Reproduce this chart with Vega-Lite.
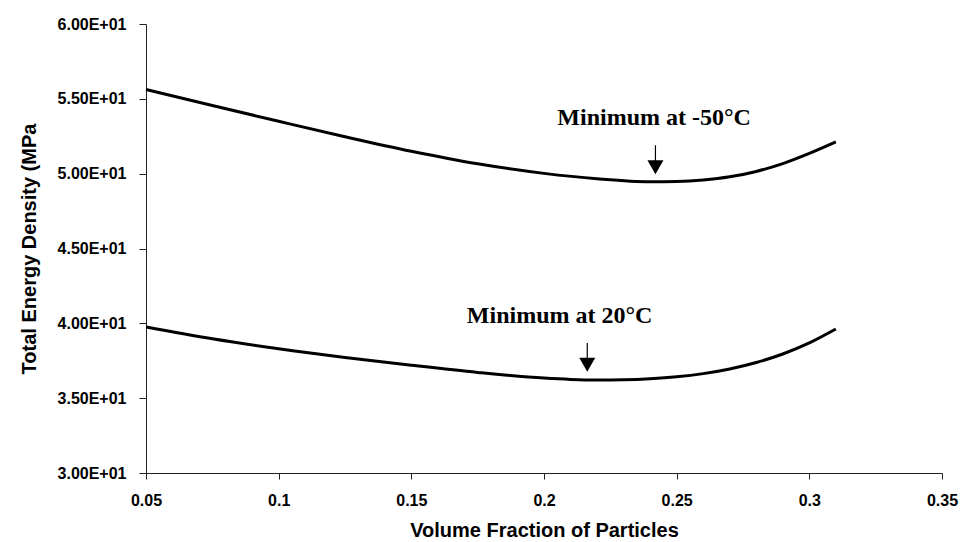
{
  "$schema": "https://vega.github.io/schema/vega-lite/v6.json",
  "width": 796,
  "height": 449,
  "autosize": {"type": "none"},
  "padding": {"left": 146, "top": 24, "right": 19, "bottom": 69},
  "background": "white",
  "config": {
    "view": {"stroke": null},
    "axis": {
      "labelFont": "Liberation Sans",
      "labelFontWeight": "bold",
      "labelFontSize": 16,
      "labelColor": "#000",
      "titleFont": "Liberation Sans",
      "titleFontWeight": "bold",
      "titleFontSize": 20,
      "titleColor": "#000",
      "domainColor": "#222",
      "tickColor": "#222",
      "grid": false
    }
  },
  "datasets": {
    "curves": [
      {"series": "-50C", "vf": 0.05, "energy": 55.62},
      {"series": "-50C", "vf": 0.075, "energy": 54.55},
      {"series": "-50C", "vf": 0.1, "energy": 53.5},
      {"series": "-50C", "vf": 0.125, "energy": 52.47},
      {"series": "-50C", "vf": 0.15, "energy": 51.5},
      {"series": "-50C", "vf": 0.175, "energy": 50.66},
      {"series": "-50C", "vf": 0.2, "energy": 50.02},
      {"series": "-50C", "vf": 0.22, "energy": 49.66},
      {"series": "-50C", "vf": 0.24, "energy": 49.46},
      {"series": "-50C", "vf": 0.25, "energy": 49.48},
      {"series": "-50C", "vf": 0.26, "energy": 49.58},
      {"series": "-50C", "vf": 0.27, "energy": 49.79},
      {"series": "-50C", "vf": 0.28, "energy": 50.15},
      {"series": "-50C", "vf": 0.29, "energy": 50.67},
      {"series": "-50C", "vf": 0.3, "energy": 51.35},
      {"series": "-50C", "vf": 0.31, "energy": 52.12},
      {"series": "20C", "vf": 0.05, "energy": 39.76},
      {"series": "20C", "vf": 0.075, "energy": 38.97},
      {"series": "20C", "vf": 0.1, "energy": 38.3},
      {"series": "20C", "vf": 0.125, "energy": 37.72},
      {"series": "20C", "vf": 0.15, "energy": 37.2},
      {"series": "20C", "vf": 0.175, "energy": 36.72},
      {"series": "20C", "vf": 0.2, "energy": 36.34},
      {"series": "20C", "vf": 0.21, "energy": 36.25},
      {"series": "20C", "vf": 0.22, "energy": 36.21},
      {"series": "20C", "vf": 0.23, "energy": 36.23},
      {"series": "20C", "vf": 0.24, "energy": 36.3},
      {"series": "20C", "vf": 0.25, "energy": 36.43},
      {"series": "20C", "vf": 0.26, "energy": 36.64},
      {"series": "20C", "vf": 0.27, "energy": 36.95},
      {"series": "20C", "vf": 0.28, "energy": 37.38},
      {"series": "20C", "vf": 0.29, "energy": 37.95},
      {"series": "20C", "vf": 0.3, "energy": 38.69},
      {"series": "20C", "vf": 0.31, "energy": 39.62}
    ],
    "arrows": [
      {"vf": 0.242, "top": 51.9, "bottom": 50.76, "head": 50.43},
      {"vf": 0.2163, "top": 38.69, "bottom": 37.53, "head": 37.23}
    ],
    "notes": [
      {"label": "Minimum at -50°C", "vf": 0.2415, "energy": 53.23},
      {"label": "Minimum at 20°C", "vf": 0.2059, "energy": 40.04}
    ]
  },
  "layer": [
    {
      "data": {"name": "curves"},
      "mark": {"type": "line", "color": "#000", "strokeWidth": 3, "interpolate": "monotone"},
      "encoding": {
        "x": {
          "field": "vf", "type": "quantitative",
          "scale": {"domain": [0.05, 0.35], "nice": false, "zero": false},
          "axis": {
            "title": "Volume Fraction of Particles",
            "values": [0.05, 0.1, 0.15, 0.2, 0.25, 0.3, 0.35],
            "format": "~g",
            "tickSize": 6,
            "labelPadding": 13,
            "titlePadding": 12,
            "labelFlush": false
          }
        },
        "y": {
          "field": "energy", "type": "quantitative",
          "scale": {"domain": [30, 60], "nice": false, "zero": false},
          "axis": {
            "title": "Total Energy Density (MPa",
            "values": [30, 35, 40, 45, 50, 55, 60],
            "labelExpr": "format(datum.value / 10, '.2f') + 'E+01'",
            "tickSize": 7,
            "labelPadding": 13,
            "titlePadding": 18
          }
        },
        "detail": {"field": "series"}
      }
    },
    {
      "data": {"name": "arrows"},
      "mark": {"type": "rule", "color": "#000", "strokeWidth": 1.2},
      "encoding": {
        "x": {"field": "vf", "type": "quantitative"},
        "y": {"field": "top", "type": "quantitative"},
        "y2": {"field": "bottom"}
      }
    },
    {
      "data": {"name": "arrows"},
      "mark": {"type": "point", "shape": "triangle-down", "filled": true, "color": "#000", "size": 256, "opacity": 1},
      "encoding": {
        "x": {"field": "vf", "type": "quantitative"},
        "y": {"field": "head", "type": "quantitative"}
      }
    },
    {
      "data": {"name": "notes"},
      "mark": {"type": "text", "font": "Liberation Serif", "fontWeight": "bold", "fontSize": 24, "color": "#000", "align": "center", "baseline": "alphabetic"},
      "encoding": {
        "x": {"field": "vf", "type": "quantitative"},
        "y": {"field": "energy", "type": "quantitative"},
        "text": {"field": "label"}
      }
    }
  ]
}
